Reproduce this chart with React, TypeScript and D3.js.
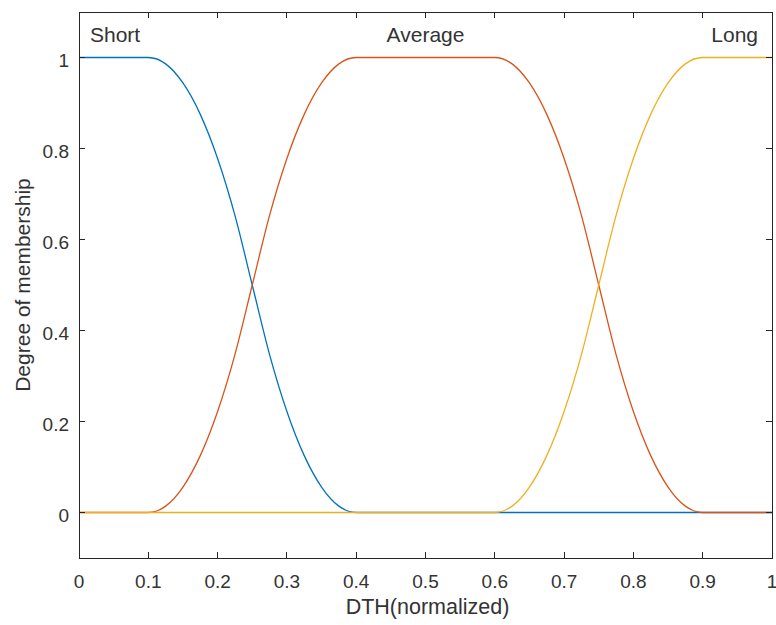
import React from "react";
import * as d3 from "d3";

const xGrid = [0, 0.025, 0.05, 0.075, 0.1, 0.125, 0.15, 0.175, 0.2, 0.225, 0.25, 0.275, 0.3, 0.325, 0.35, 0.375, 0.4, 0.425, 0.45, 0.475, 0.5, 0.525, 0.55, 0.575, 0.6, 0.625, 0.65, 0.675, 0.7, 0.725, 0.75, 0.775, 0.8, 0.825, 0.85, 0.875, 0.9, 0.925, 0.95, 0.975, 1];

const shortVals = [1, 1, 1, 1, 1, 0.986, 0.944, 0.875, 0.778, 0.653, 0.5, 0.347, 0.222, 0.125, 0.056, 0.014, 0, 0, 0, 0, 0, 0, 0, 0, 0, 0, 0, 0, 0, 0, 0, 0, 0, 0, 0, 0, 0, 0, 0, 0, 0];
const averageVals = [0, 0, 0, 0, 0, 0.014, 0.056, 0.125, 0.222, 0.347, 0.5, 0.653, 0.778, 0.875, 0.944, 0.986, 1, 1, 1, 1, 1, 1, 1, 1, 1, 0.986, 0.944, 0.875, 0.778, 0.653, 0.5, 0.347, 0.222, 0.125, 0.056, 0.014, 0, 0, 0, 0, 0];
const longVals = [0, 0, 0, 0, 0, 0, 0, 0, 0, 0, 0, 0, 0, 0, 0, 0, 0, 0, 0, 0, 0, 0, 0, 0, 0, 0.014, 0.056, 0.125, 0.222, 0.347, 0.5, 0.653, 0.778, 0.875, 0.944, 0.986, 1, 1, 1, 1, 1];

const seriesNames = ["Short", "Average", "Long"];
const seriesColors = ["#0072BD", "#D95319", "#EDB120"];
const xTicks = [0, 0.1, 0.2, 0.3, 0.4, 0.5, 0.6, 0.7, 0.8, 0.9, 1];
const yTicks = [0, 0.2, 0.4, 0.6, 0.8, 1];

const W = 776, H = 625;
const L = 79, R = 772, T = 12, B = 558;
const FONT = "'Liberation Sans', Arial, Helvetica, sans-serif";
const TXT = "#333333";

export default function App() {
  const x = d3.scaleLinear().domain([0, 1]).range([L, R]);
  const y = d3.scaleLinear().domain([-0.1, 1.1]).range([B, T]);
  const series = [shortVals, averageVals, longVals];
  const line = d3
    .line<number>()
    .x((_, i) => x(xGrid[i]))
    .y((d) => y(d))
    .curve(d3.curveMonotoneX);
  const tl = 6;
  const labelPos = [
    { x: x(0) + 11, anchor: "start" },
    { x: x(0.5), anchor: "middle" },
    { x: x(1) - 14, anchor: "end" },
  ];
  return (
    <svg width={W} height={H} style={{ position: "absolute", left: 0, top: 0, background: "#fff" }}>
      <rect x={0} y={0} width={W} height={H} fill="#fff" />
      {series.map((s, k) => (
        <path key={k} d={line(s) || ""} fill="none" stroke={seriesColors[k]} strokeWidth={1.3} />
      ))}
      <rect x={L} y={T} width={R - L} height={B - T} fill="none" stroke="#262626" strokeWidth={1} shapeRendering="crispEdges" />
      {xTicks.map((t) => (
        <g key={"x" + t}>
          <line x1={x(t)} x2={x(t)} y1={B} y2={B - tl} stroke="#262626" shapeRendering="crispEdges" />
          <line x1={x(t)} x2={x(t)} y1={T} y2={T + tl} stroke="#262626" shapeRendering="crispEdges" />
          <text x={x(t)} y={B + 30} textAnchor="middle" fontFamily={FONT} fontSize={19} fill={TXT}>
            {String(t)}
          </text>
        </g>
      ))}
      {yTicks.map((t) => (
        <g key={"y" + t}>
          <line x1={L} x2={L + tl} y1={y(t)} y2={y(t)} stroke="#262626" shapeRendering="crispEdges" />
          <line x1={R} x2={R - tl} y1={y(t)} y2={y(t)} stroke="#262626" shapeRendering="crispEdges" />
          <text x={69} y={y(t) + 9.5} textAnchor="end" fontFamily={FONT} fontSize={19} fill={TXT}>
            {String(t)}
          </text>
        </g>
      ))}
      {seriesNames.map((n, k) => (
        <text key={n} x={labelPos[k].x} y={42} textAnchor={labelPos[k].anchor as any} fontFamily={FONT} fontSize={21} fill={TXT}>
          {n}
        </text>
      ))}
      <text x={(L + R) / 2 + 2} y={614} textAnchor="middle" fontFamily={FONT} fontSize={21.5} fill={TXT}>
        DTH(normalized)
      </text>
      <text
        transform={`translate(30, ${(T + B) / 2}) rotate(-90)`}
        textAnchor="middle"
        fontFamily={FONT}
        fontSize={21}
        fill={TXT}
      >
        Degree of membership
      </text>
    </svg>
  );
}
